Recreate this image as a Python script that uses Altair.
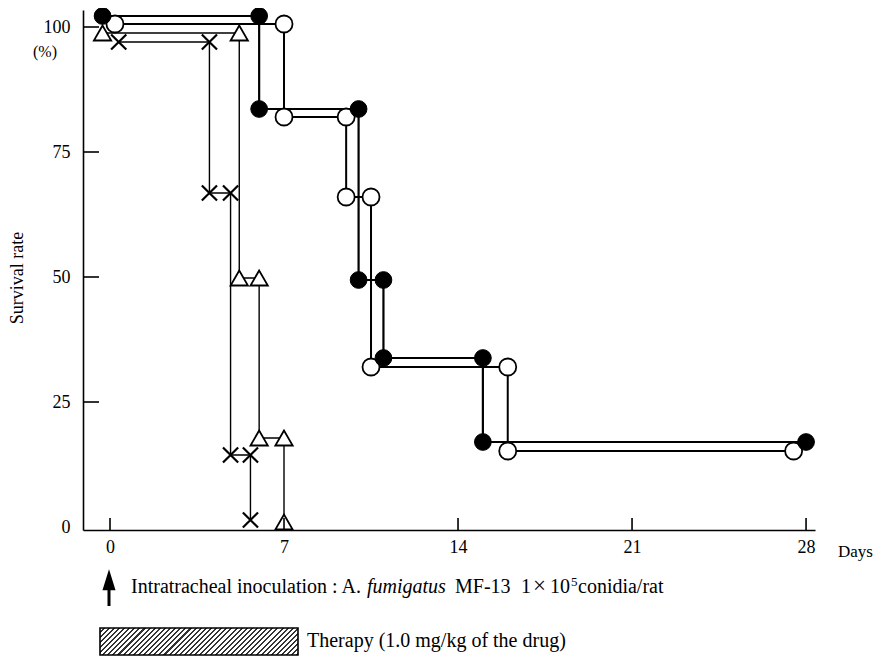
import altair as alt
import pandas as pd

# ---- data (days, survival %) ----
filled_day = [-0.3, 6.0, 6.0, 10.0, 10.0, 11.0, 11.0, 15.0, 15.0, 28.0]
filled_rate = [102.2, 102.2, 83.6, 83.6, 49.4, 49.4, 33.8, 33.8, 17.0, 17.0]

open_day = [0.2, 7.0, 7.0, 9.5, 9.5, 10.5, 10.5, 16.0, 16.0, 27.5]
open_rate = [100.6, 100.6, 82.0, 82.0, 66.0, 66.0, 32.0, 32.0, 15.2, 15.2]

tri_day = [-0.3, 5.2, 5.2, 6.0, 6.0, 7.0, 7.0]
tri_rate = [98.8, 98.8, 49.8, 49.8, 17.8, 17.8, 1.0]

cross_day = [0.35, 4.0, 4.0, 4.85, 4.85, 5.65, 5.65]
cross_rate = [97.0, 97.0, 66.8, 66.8, 14.4, 14.4, 1.4]

x_ticks = [0, 7, 14, 21, 28]
y_ticks = [25, 50, 75, 100]
y_labels = [0, 25, 50, 75, 100]

W, H = 732, 520
FONT = "Liberation Serif"

xs = alt.Scale(domain=[-1.086, 28.36], nice=False, zero=False)
ys = alt.Scale(domain=[-0.6, 103.4], nice=False, zero=False)

xaxis = alt.Axis(values=x_ticks, ticks=False, tickSize=0, domain=True, domainColor="black",
                 domainWidth=1.6, labelFont=FONT, labelFontSize=18, labelColor="black",
                 labelPadding=8, grid=False, title=None, labelFlush=False)
yaxis = alt.Axis(values=y_labels, ticks=False, tickSize=0, domain=True, domainColor="black",
                 domainWidth=1.6, labelFont=FONT, labelFontSize=18, labelColor="black",
                 labelPadding=13, grid=False, title=None, labelFlush=False)


def X(f):
    return alt.X(f"{f}:Q", scale=xs, axis=xaxis)


def Y(f):
    return alt.Y(f"{f}:Q", scale=ys, axis=yaxis)


def frame(days, rates):
    return pd.DataFrame({"day": days, "rate": rates, "i": list(range(len(days)))})


df_f = frame(filled_day, filled_rate)
df_o = frame(open_day, open_rate)
df_t = frame(tri_day, tri_rate)
df_x = frame(cross_day, cross_rate)


def line(df, sw):
    return alt.Chart(df).mark_line(color="black", strokeWidth=sw).encode(
        x=X("day"), y=Y("rate"), order="i:Q")


lines = [line(df_f, 2.2), line(df_o, 2.0), line(df_t, 1.4), line(df_x, 1.4)]

pts_x = alt.Chart(df_x).mark_point(shape="M-1,-1L1,1M-1,1L1,-1", filled=False, stroke="black",
                                   strokeWidth=2.2, size=230, opacity=1).encode(x=X("day"), y=Y("rate"))
pts_t = alt.Chart(df_t).mark_point(shape="triangle-up", filled=True, fill="white", stroke="black",
                                   strokeWidth=1.8, size=300, opacity=1).encode(x=X("day"), y=Y("rate"))
pts_o = alt.Chart(df_o).mark_point(shape="circle", filled=True, fill="white", stroke="black",
                                   strokeWidth=1.8, size=290, opacity=1).encode(x=X("day"), y=Y("rate"))
pts_f = alt.Chart(df_f).mark_point(shape="circle", filled=True, fill="black", stroke="black",
                                   strokeWidth=1, size=280, opacity=1).encode(x=X("day"), y=Y("rate"))

xtick_rules = alt.Chart(pd.DataFrame({"t": x_ticks})).mark_rule(color="black", strokeWidth=1.6).encode(
    x=X("t"), y=alt.value(H), y2=alt.value(H - 12))
ytick_rules = alt.Chart(pd.DataFrame({"v": y_ticks})).mark_rule(color="black", strokeWidth=1.6).encode(
    y=Y("v"), x=alt.value(0), x2=alt.value(16))

one = pd.DataFrame({"a": [0]})


def txt(s, x, y, size=18, style="normal", align="left", baseline="alphabetic", angle=0):
    kw = dict(text=s, font=FONT, fontSize=size, fontStyle=style, color="black",
              align=align, baseline=baseline)
    if angle:
        kw["angle"] = angle
    return alt.Chart(one).mark_text(**kw).encode(x=alt.value(x), y=alt.value(y))


BL = 583
annots = [
    txt("Survival rate", -65, 268, size=18, align="center", baseline="middle", angle=270),
    txt("(%)", -38, 42, size=16, align="center", baseline="middle"),
    txt("Days", 755, 542, size=17, baseline="middle"),
    txt("Intratracheal inoculation : A.", 48, BL, size=20),
    txt("fumigatus", 284, BL, size=20, style="italic"),
    txt("MF-13", 372, BL, size=20),
    txt("1", 438, BL, size=20),
    txt("\u00d7", 450, BL, size=23),
    txt("10", 467, BL, size=20),
    txt("5", 488, BL - 7, size=13),
    txt("conidia/rat", 495, BL, size=20),
    txt("Therapy (1.0 mg/kg of the drug)", 224, 637, size=20),
]

# inoculation arrow
arrow_shaft = alt.Chart(one).mark_rule(color="black", strokeWidth=3).encode(
    x=alt.value(26), y=alt.value(575), y2=alt.value(596))
arrow_head = alt.Chart(one).mark_point(shape="M0,-1L0.62,1L-0.62,1Z", filled=True, fill="black",
                                       stroke="black", size=280, opacity=1).encode(
    x=alt.value(26), y=alt.value(571))

# hatched therapy box (stripe gradient)
bw, bh = 198.0, 27.0
a = (bw + bh) / (bw * bw + bh * bh)
nstripes = 44
stops = []
for k in range(nstripes):
    s0 = k / nstripes
    s1 = (k + 0.6) / nstripes
    s2 = (k + 1) / nstripes
    stops += [alt.GradientStop(offset=s0, color="white"), alt.GradientStop(offset=s1, color="white"),
              alt.GradientStop(offset=s1, color="#333333"), alt.GradientStop(offset=s2, color="#333333")]
grad = alt.LinearGradient(gradient="linear", stops=stops, x1=0, y1=0, x2=a * bw, y2=a * bh)
box = alt.Chart(one).mark_rect(fill=grad, stroke="black", strokeWidth=1.6, opacity=1).encode(
    x=alt.value(17), x2=alt.value(17 + bw), y=alt.value(618), y2=alt.value(618 + bh))

chart = alt.layer(
    *lines, pts_x, pts_t, pts_o, pts_f, xtick_rules, ytick_rules, *annots, arrow_shaft, arrow_head, box
).properties(
    width=W, height=H,
    autosize=alt.AutoSizeParams(type="none"),
    padding={"left": 75, "top": 2, "right": 60, "bottom": 128},
    background="white",
).configure_view(stroke=None)

chart.save("out.html", embed_options={"renderer": "svg", "actions": False})
